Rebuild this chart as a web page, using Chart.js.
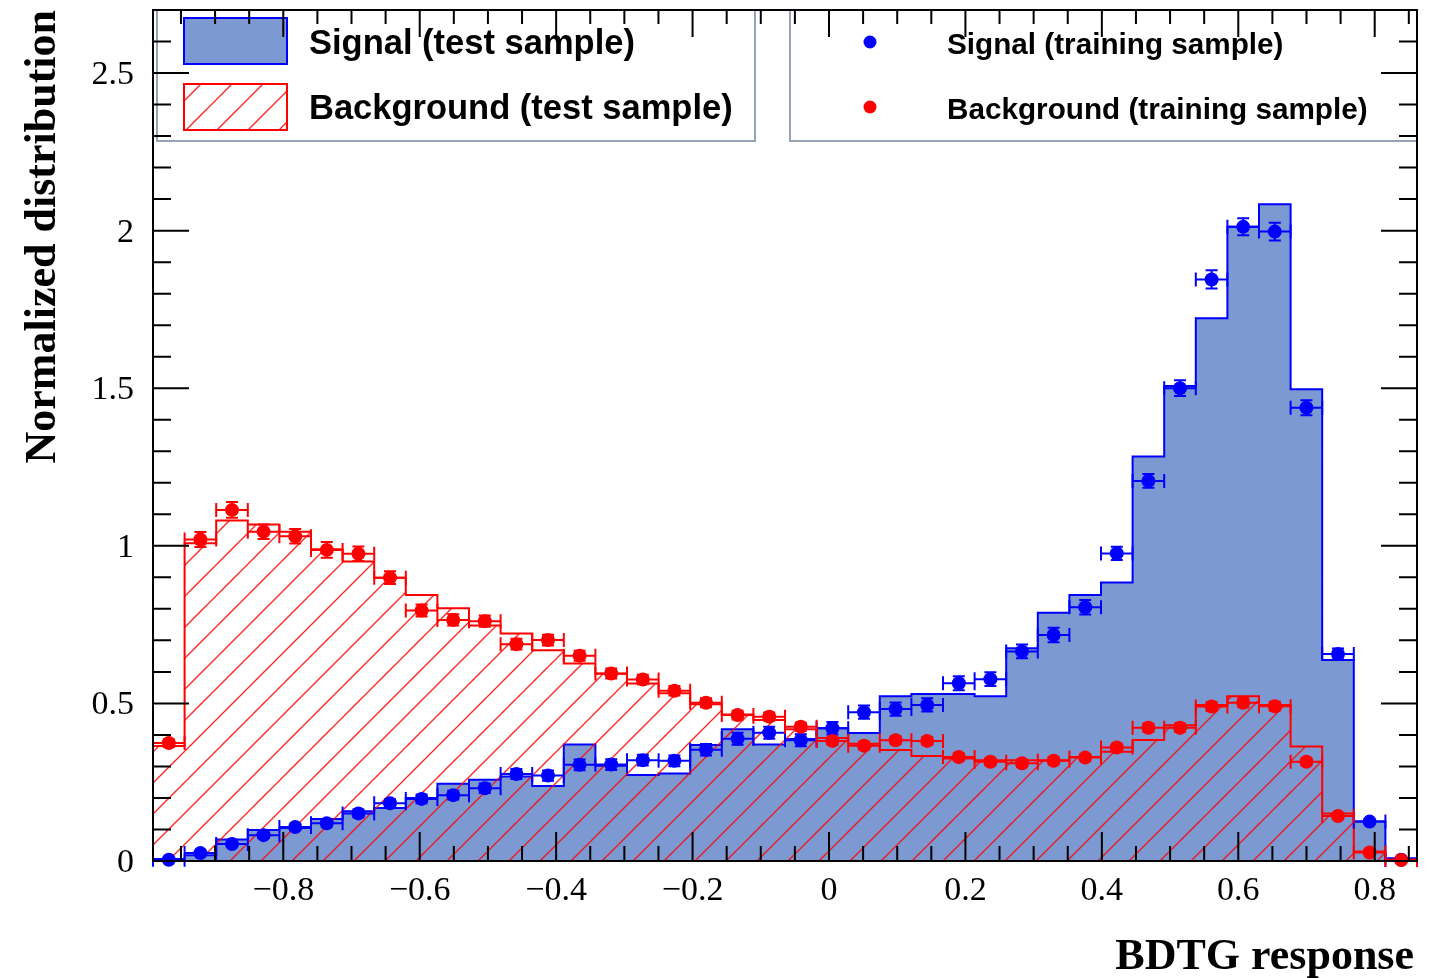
<!DOCTYPE html>
<html>
<head>
<meta charset="utf-8">
<title>BDTG response</title>
<script src="https://cdn.jsdelivr.net/npm/chart.js@4.4.1/dist/chart.umd.min.js"></script>
<style>
  html, body { margin: 0; padding: 0; background: #fff; }
  #plot { display: block; }
</style>
</head>
<body>
<canvas id="plot" width="1440" height="978"></canvas>
<script>
// histogram binning of the classifier output
const xMin = -0.991;
const xMax = 0.862;
const nBins = 40;
const yMax = 2.7;

// test sample, drawn as filled histograms
const signalTest = [
  0.006, 0.018, 0.068, 0.098, 0.105, 0.133, 0.158, 0.168, 0.200, 0.245,
  0.258, 0.268, 0.238, 0.370, 0.302, 0.273, 0.278, 0.368, 0.418, 0.370,
  0.387, 0.421, 0.406, 0.523, 0.530, 0.530, 0.523, 0.675, 0.788, 0.844,
  0.884, 1.283, 1.507, 1.722, 2.012, 2.084, 1.497, 0.638, 0.125, 0.009
];
const backgroundTest = [
  0.365, 1.008, 1.080, 1.068, 1.045, 0.989, 0.950, 0.899, 0.844, 0.802,
  0.747, 0.722, 0.669, 0.627, 0.594, 0.563, 0.532, 0.497, 0.465, 0.447,
  0.418, 0.390, 0.372, 0.352, 0.333, 0.325, 0.320, 0.320, 0.320, 0.330,
  0.347, 0.384, 0.431, 0.495, 0.523, 0.495, 0.363, 0.151, 0.030, 0.005
];

// training sample, drawn as markers with errors
const signalTrain = [
  0.004, 0.025, 0.054, 0.082, 0.108, 0.120, 0.151, 0.183, 0.197, 0.209,
  0.231, 0.276, 0.271, 0.305, 0.306, 0.320, 0.318, 0.353, 0.388, 0.407,
  0.383, 0.421, 0.472, 0.482, 0.495, 0.564, 0.577, 0.665, 0.717, 0.805,
  0.976, 1.206, 1.500, 1.845, 2.012, 1.997, 1.438, 0.657, 0.125, 0.004
];
const signalTrainErr = [
  0.002, 0.005, 0.007, 0.009, 0.010, 0.011, 0.012, 0.013, 0.014, 0.014,
  0.015, 0.016, 0.016, 0.017, 0.017, 0.017, 0.017, 0.018, 0.019, 0.019,
  0.019, 0.020, 0.021, 0.021, 0.021, 0.022, 0.022, 0.022, 0.023, 0.023,
  0.021, 0.022, 0.025, 0.029, 0.027, 0.028, 0.024, 0.017, 0.007, 0.002
];
const backgroundTrain = [
  0.374, 1.020, 1.114, 1.045, 1.030, 0.987, 0.975, 0.899, 0.795, 0.765,
  0.761, 0.688, 0.701, 0.651, 0.595, 0.576, 0.540, 0.502, 0.463, 0.458,
  0.426, 0.381, 0.366, 0.383, 0.381, 0.330, 0.315, 0.310, 0.318, 0.328,
  0.360, 0.423, 0.423, 0.490, 0.502, 0.491, 0.315, 0.143, 0.027, 0.003
];
const backgroundTrainErr = [
  0.012, 0.024, 0.025, 0.023, 0.023, 0.025, 0.023, 0.020, 0.019, 0.018,
  0.018, 0.017, 0.017, 0.016, 0.016, 0.015, 0.015, 0.014, 0.014, 0.013,
  0.013, 0.012, 0.012, 0.012, 0.012, 0.011, 0.011, 0.011, 0.011, 0.011,
  0.012, 0.013, 0.013, 0.014, 0.014, 0.014, 0.011, 0.007, 0.003, 0.001
];

const xTickValues = [-0.8, -0.6, -0.4, -0.2, 0, 0.2, 0.4, 0.6, 0.8];
const xTickLabels = ["\u22120.8", "\u22120.6", "\u22120.4", "\u22120.2", "0", "0.2", "0.4", "0.6", "0.8"];
const yTickValues = [0, 0.5, 1, 1.5, 2, 2.5];
const yTickLabels = ["0", "0.5", "1", "1.5", "2", "2.5"];

const SIG_FILL = "#7d99d1";
const SIG_LINE = "#0000ff";
const BKG_LINE = "#ff0000";
const SERIF = '"Liberation Serif", "Times New Roman", serif';
const SANS = '"Liberation Sans", Arial, sans-serif';

const binWidth = (xMax - xMin) / nBins;
const edges = Array.from({ length: nBins + 1 }, (_, i) => xMin + i * binWidth);
const centers = edges.slice(0, nBins).map((e) => e + binWidth / 2);

// outline of a histogram: one point per lower bin edge, closed down to zero
function histPoints(values) {
  const pts = [{ x: edges[0], y: 0 }];
  values.forEach((v, i) => pts.push({ x: edges[i], y: v }));
  pts.push({ x: edges[nBins], y: values[nBins - 1] });
  pts.push({ x: edges[nBins], y: 0 });
  return pts;
}

function markerPoints(values) {
  return values.map((v, i) => ({ x: centers[i], y: v }));
}

// red "/" hatching, anchored to the canvas
function makeHatch() {
  const s = 31;
  const tile = document.createElement("canvas");
  tile.width = s;
  tile.height = s;
  const g = tile.getContext("2d");
  g.strokeStyle = "rgba(255, 0, 0, 0.85)";
  g.lineWidth = 1.4;
  g.beginPath();
  g.moveTo(-2, s + 2); g.lineTo(s + 2, -2);
  g.moveTo(-2, 2); g.lineTo(2, -2);
  g.moveTo(s - 2, s + 2); g.lineTo(s + 2, s - 2);
  g.stroke();
  const p = document.createElement("canvas").getContext("2d").createPattern(tile, "repeat");
  p.setTransform(new DOMMatrix().translate(6, 0));
  return p;
}
const hatch = makeHatch();

// horizontal bin-width bars and vertical errors, drawn just under each marker set
const errorBars = {
  id: "errorBars",
  beforeDatasetDraw(chart, args) {
    const ds = chart.data.datasets[args.index];
    if (!ds.yErr) return;
    const { ctx } = chart;
    const x = chart.scales.x, y = chart.scales.y;
    ctx.save();
    ctx.strokeStyle = ds.backgroundColor;
    ctx.lineWidth = 2;
    ctx.beginPath();
    ds.data.forEach((p, i) => {
      const px = x.getPixelForValue(p.x);
      const py = y.getPixelForValue(p.y);
      const xl = x.getPixelForValue(p.x - binWidth / 2);
      const xr = x.getPixelForValue(p.x + binWidth / 2);
      const yt = y.getPixelForValue(p.y + ds.yErr[i]);
      const yb = y.getPixelForValue(Math.max(0, p.y - ds.yErr[i]));
      ctx.moveTo(xl, py); ctx.lineTo(xr, py);
      ctx.moveTo(xl, py - 7); ctx.lineTo(xl, py + 7);
      ctx.moveTo(xr, py - 7); ctx.lineTo(xr, py + 7);
      ctx.moveTo(px, yt); ctx.lineTo(px, yb);
      ctx.moveTo(px - 6, yt); ctx.lineTo(px + 6, yt);
      ctx.moveTo(px - 6, yb); ctx.lineTo(px + 6, yb);
    });
    ctx.stroke();
    ctx.restore();
  }
};

function drawLegends(ctx) {
  ctx.save();
  ctx.lineWidth = 2;
  ctx.strokeStyle = "#97a3b6";
  ctx.fillStyle = "#fff";
  ctx.fillRect(157, 10, 598, 131);
  ctx.strokeRect(157, 10, 598, 131);
  ctx.fillRect(790, 10, 627, 131);
  ctx.strokeRect(790, 10, 627, 131);

  // test sample swatches
  ctx.fillStyle = SIG_FILL;
  ctx.fillRect(184, 18, 103, 46);
  ctx.strokeStyle = SIG_LINE;
  ctx.strokeRect(184, 18, 103, 46);
  ctx.fillStyle = "#fff";
  ctx.fillRect(184, 84, 103, 46);
  ctx.fillStyle = hatch;
  ctx.fillRect(184, 84, 103, 46);
  ctx.strokeStyle = BKG_LINE;
  ctx.strokeRect(184, 84, 103, 46);

  ctx.fillStyle = "#000";
  ctx.textAlign = "left";
  ctx.textBaseline = "alphabetic";
  ctx.font = "bold 34.5px " + SANS;
  ctx.fillText("Signal (test sample)", 309, 54);
  ctx.fillText("Background (test sample)", 309, 119);

  // training sample markers
  ctx.fillStyle = SIG_LINE;
  ctx.beginPath(); ctx.arc(870, 42, 6.5, 0, Math.PI * 2); ctx.fill();
  ctx.fillStyle = BKG_LINE;
  ctx.beginPath(); ctx.arc(870, 107, 6.5, 0, Math.PI * 2); ctx.fill();
  ctx.fillStyle = "#000";
  ctx.font = "bold 29.7px " + SANS;
  ctx.fillText("Signal (training sample)", 947, 54);
  ctx.fillText("Background (training sample)", 947, 119);
  ctx.restore();
}

// frame, ticks on all four sides, labels and axis titles
const axesFrame = {
  id: "axesFrame",
  afterDraw(chart) {
    const { ctx, chartArea: a } = chart;
    const x = chart.scales.x, y = chart.scales.y;
    drawLegends(ctx);
    ctx.save();
    ctx.strokeStyle = "#000";
    ctx.lineWidth = 2;
    ctx.strokeRect(a.left, a.top, a.right - a.left, a.bottom - a.top);

    ctx.beginPath();
    for (let k = Math.ceil(xMin / 0.05); k * 0.05 <= xMax; k++) {
      const major = k % 4 === 0;
      const px = x.getPixelForValue(k * 0.05);
      ctx.moveTo(px, a.bottom); ctx.lineTo(px, a.bottom - (major ? 29 : 15));
      ctx.moveTo(px, a.top); ctx.lineTo(px, a.top + (major ? 27 : 14));
    }
    for (let k = 1; k * 0.1 < yMax; k++) {
      const major = k % 5 === 0;
      const py = y.getPixelForValue(k * 0.1);
      const len = major ? 36 : 18;
      ctx.moveTo(a.left, py); ctx.lineTo(a.left + len, py);
      ctx.moveTo(a.right, py); ctx.lineTo(a.right - len, py);
    }
    ctx.stroke();

    ctx.fillStyle = "#000";
    ctx.font = "34px " + SERIF;
    ctx.textBaseline = "alphabetic";
    ctx.textAlign = "center";
    xTickValues.forEach((v, i) => {
      ctx.fillText(xTickLabels[i], x.getPixelForValue(v), 900);
    });
    ctx.textAlign = "right";
    yTickValues.forEach((v, i) => {
      ctx.fillText(yTickLabels[i], 134, y.getPixelForValue(v) + 11);
    });

    ctx.font = "bold 44px " + SERIF;
    ctx.textAlign = "right";
    ctx.fillText("BDTG response", 1414, 969);
    ctx.translate(55, a.top);
    ctx.rotate(-Math.PI / 2);
    ctx.fillText("Normalized distribution", 0, 0);
    ctx.restore();
  }
};

new Chart(document.getElementById("plot"), {
  type: "line",
  data: {
    datasets: [
      {
        label: "Signal (test sample)",
        data: histPoints(signalTest),
        stepped: true,
        borderColor: SIG_LINE,
        borderWidth: 2,
        backgroundColor: SIG_FILL,
        fill: "origin",
        pointRadius: 0,
        order: 4
      },
      {
        label: "Background (test sample)",
        data: histPoints(backgroundTest),
        stepped: true,
        borderColor: BKG_LINE,
        borderWidth: 2,
        backgroundColor: hatch,
        fill: "origin",
        pointRadius: 0,
        order: 3
      },
      {
        type: "scatter",
        label: "Signal (training sample)",
        data: markerPoints(signalTrain),
        yErr: signalTrainErr,
        backgroundColor: SIG_LINE,
        borderWidth: 0,
        pointRadius: 7,
        clip: false,
        order: 2
      },
      {
        type: "scatter",
        label: "Background (training sample)",
        data: markerPoints(backgroundTrain),
        yErr: backgroundTrainErr,
        backgroundColor: BKG_LINE,
        borderWidth: 0,
        pointRadius: 7,
        clip: false,
        order: 1
      }
    ]
  },
  options: {
    responsive: false,
    animation: false,
    devicePixelRatio: 1,
    events: [],
    layout: { padding: { left: 153, right: 23, top: 10, bottom: 117 } },
    scales: {
      x: { type: "linear", min: xMin, max: xMax, display: false },
      y: { type: "linear", min: 0, max: yMax, display: false }
    },
    plugins: {
      legend: { display: false },
      tooltip: { enabled: false }
    }
  },
  plugins: [errorBars, axesFrame]
});
</script>
</body>
</html>
